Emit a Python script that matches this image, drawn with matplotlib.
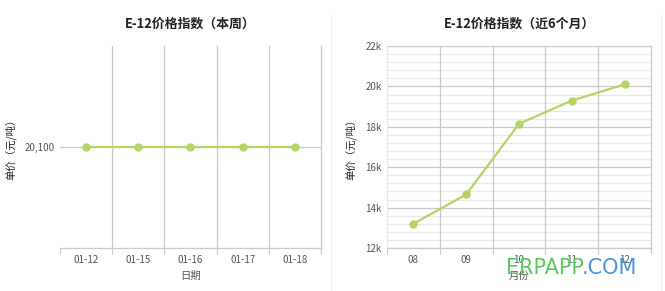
import matplotlib.pyplot as plt
from matplotlib.ticker import MultipleLocator, FixedLocator, FuncFormatter

plt.rcParams['font.family'] = ['Noto Sans CJK SC', 'DejaVu Sans']

# Dati: settimana corrente
week_days = ['01-12', '01-15', '01-16', '01-17', '01-18']
week_prices = [20100, 20100, 20100, 20100, 20100]

# Dati: ultimi 6 mesi
months = ['08', '09', '10', '11', '12']
month_prices = [13200, 14650, 18150, 19300, 20100]

line_color = '#b5d467'
grid_major = '#c9c9c9'
grid_minor = '#e8e8e8'
text_color = '#555555'

fig = plt.figure(figsize=(6.65, 2.91), dpi=100)
ax1 = fig.add_axes([0.0902, 0.1478, 0.3925, 0.694])
ax2 = fig.add_axes([0.582, 0.1478, 0.397, 0.694])

# Separatori leggeri tra i pannelli
fig.add_artist(plt.Line2D([331 / 665, 331 / 665], [0, 0.95], color='#f0f0f0', linewidth=0.8))
fig.add_artist(plt.Line2D([661 / 665, 661 / 665], [0, 0.95], color='#f0f0f0', linewidth=0.8))


def style_axes(ax, labels):
    n = len(labels)
    ax.set_xlim(-0.5, n - 0.5)
    ax.set_xticks(range(n))
    ax.set_xticklabels(labels)
    ax.xaxis.set_minor_locator(FixedLocator([i + 0.5 for i in range(-1, n)]))
    ax.tick_params(axis='x', which='major', length=0, pad=5, labelsize=7, labelcolor=text_color)
    ax.tick_params(axis='x', which='minor', length=4, color=grid_major, width=0.8)
    ax.tick_params(axis='y', length=0, pad=4, labelsize=7, labelcolor=text_color)
    # linee verticali tra le categorie (non sul bordo sinistro)
    for i in range(n - 1):
        ax.axvline(i + 0.5, color=grid_major, linewidth=0.9, zorder=1)
    for side in ['top', 'left']:
        ax.spines[side].set_visible(False)
    ax.spines['right'].set_color(grid_major)
    ax.spines['right'].set_linewidth(0.9)
    ax.spines['bottom'].set_color(grid_major)
    ax.spines['bottom'].set_linewidth(0.9)
    ax.set_axisbelow(True)


# Grafico della settimana
style_axes(ax1, week_days)
ax1.set_ylim(20000, 20200)
ax1.set_yticks([20100])
ax1.yaxis.set_major_formatter(FuncFormatter(lambda v, p: f'{v:,.0f}'))
ax1.grid(axis='y', which='major', color=grid_major, linewidth=0.9)
ax1.plot(range(len(week_days)), week_prices, color=line_color, linewidth=1.6,
         marker='o', markersize=5, zorder=3)
ax1.set_title('E-12价格指数（本周）', fontsize=9.3, fontweight='bold', color='#222222', pad=13)
ax1.set_xlabel('日期', fontsize=7.5, color=text_color, labelpad=4)
ax1.set_ylabel('单价（元/吨）', fontsize=7.5, color='#222222', labelpad=6)

# Grafico degli ultimi 6 mesi
style_axes(ax2, months)
ax2.set_ylim(12000, 22000)
ax2.yaxis.set_major_locator(MultipleLocator(2000))
ax2.yaxis.set_minor_locator(MultipleLocator(400))
ax2.yaxis.set_major_formatter(FuncFormatter(lambda v, p: f'{v / 1000:.0f}k'))
ax2.tick_params(axis='y', which='minor', length=0)
ax2.grid(axis='y', which='major', color=grid_major, linewidth=0.9)
ax2.grid(axis='y', which='minor', color=grid_minor, linewidth=0.9)
ax2.spines['left'].set_visible(True)
ax2.spines['left'].set_color(grid_minor)
ax2.plot(range(len(months)), month_prices, color=line_color, linewidth=1.6,
         marker='o', markersize=5, zorder=3)
ax2.set_title('E-12价格指数（近6个月）', fontsize=9.3, fontweight='bold', color='#222222', pad=13)
ax2.set_xlabel('月份', fontsize=7.5, color=text_color, labelpad=4)
ax2.set_ylabel('单价（元/吨）', fontsize=7.5, color='#222222', labelpad=6)

# Filigrana
fig.text(506 / 665, 0.08, 'ERPAPP', fontsize=15, color='#5dc95d', ha='left', va='center',
         family='DejaVu Sans')
fig.text(582 / 665, 0.08, '.COM', fontsize=15, color='#4a93d8', ha='left', va='center',
         family='DejaVu Sans')

fig.savefig('out.png', dpi=100, facecolor='white')
